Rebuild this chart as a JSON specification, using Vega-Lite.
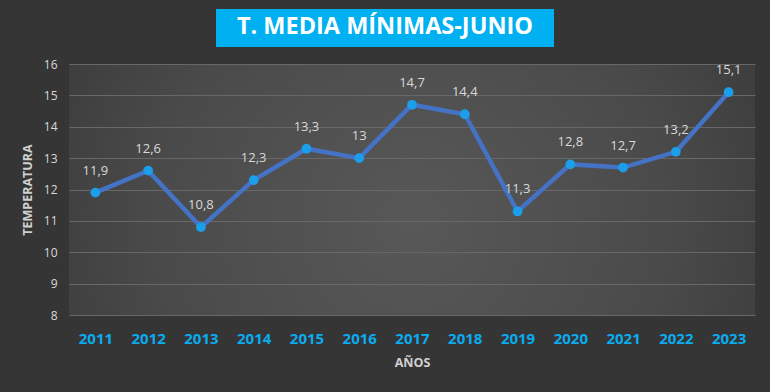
{
  "$schema": "https://vega.github.io/schema/vega-lite/v6.json",
  "width": 686,
  "height": 251,
  "autosize": {"type": "none"},
  "padding": {"left": 69, "top": 64, "right": 15, "bottom": 77},
  "background": "#353535",
  "config": {
    "view": {
      "stroke": null,
      "fill": {
        "gradient": "radial",
        "x1": 0.5, "y1": 0.55, "r1": 0,
        "x2": 0.5, "y2": 0.55, "r2": 0.75,
        "stops": [
          {"offset": 0, "color": "#585858"},
          {"offset": 0.5, "color": "#4a4a4a"},
          {"offset": 0.75, "color": "#3d3d3d"},
          {"offset": 1, "color": "#363636"}
        ]
      }
    },
    "font": "Open Sans",
    "locale": {
      "number": {"decimal": ",", "thousands": ".", "grouping": [3], "currency": ["", " €"]}
    }
  },
  "data": {
    "values": [
      {"year": "2011", "temp": 11.9},
      {"year": "2012", "temp": 12.6},
      {"year": "2013", "temp": 10.8},
      {"year": "2014", "temp": 12.3},
      {"year": "2015", "temp": 13.3},
      {"year": "2016", "temp": 13.0},
      {"year": "2017", "temp": 14.7},
      {"year": "2018", "temp": 14.4},
      {"year": "2019", "temp": 11.3},
      {"year": "2020", "temp": 12.8},
      {"year": "2021", "temp": 12.7},
      {"year": "2022", "temp": 13.2},
      {"year": "2023", "temp": 15.1}
    ]
  },
  "resolve": {"scale": {"x": "independent", "y": "independent"}, "axis": {"x": "independent", "y": "independent"}},
  "layer": [
    {
      "encoding": {
        "x": {
          "field": "year",
          "type": "ordinal",
          "scale": {"type": "point", "padding": 0.5},
          "axis": {
            "title": "AÑOS",
            "labelAngle": 0,
            "labelColor": "#0AABEF",
            "labelFont": "Open Sans",
            "labelFontSize": 15,
            "labelFontWeight": "bold",
            "labelPadding": 16,
            "ticks": false,
            "tickSize": 0,
            "domain": false,
            "grid": false,
            "titleColor": "#d0d0d0",
            "titleFontSize": 12.5,
            "titleFontWeight": "bold",
            "titlePadding": 10
          }
        },
        "y": {
          "field": "temp",
          "type": "quantitative",
          "scale": {"domain": [8, 16], "nice": false, "zero": false},
          "axis": {
            "title": "TEMPERATURA",
            "values": [8, 9, 10, 11, 12, 13, 14, 15, 16],
            "labelOverlap": false,
            "format": "d",
            "labelColor": "#d9d9d9",
            "labelFontSize": 12,
            "labelPadding": 12,
            "ticks": false,
            "tickSize": 0,
            "domain": false,
            "grid": true,
            "gridColor": "#686868",
            "gridWidth": 1,
            "titleColor": "#d0d0d0",
            "titleFontSize": 12.5,
            "titleFontWeight": "bold",
            "titlePadding": 9
          }
        }
      },
      "layer": [
        {"mark": {"type": "line", "color": "#4472C4", "strokeWidth": 4.5}},
        {"mark": {"type": "point", "filled": true, "opacity": 1, "size": 95, "color": "#1C9FEA"}},
        {
          "mark": {"type": "text", "dy": -22, "baseline": "middle", "align": "center", "fontSize": 13, "color": "#d9d9d9"},
          "encoding": {"text": {"field": "temp", "type": "quantitative", "format": "~g"}}
        }
      ]
    },
    {
      "data": {"values": [{"title": "T. MEDIA MÍNIMAS-JUNIO"}]},
      "layer": [
        {
          "mark": {"type": "rect", "color": "#00B0F0", "opacity": 1},
          "encoding": {
            "x": {"datum": 0.2143, "type": "quantitative", "scale": {"domain": [0, 1]}, "axis": null},
            "x2": {"datum": 0.707},
            "y": {"datum": 17.753, "type": "quantitative", "scale": {"domain": [8, 16], "nice": false, "zero": false}, "axis": null},
            "y2": {"datum": 16.542}
          }
        },
        {
          "mark": {"type": "text", "align": "center", "baseline": "middle", "font": "Open Sans", "fontSize": 23.5, "fontWeight": "bold", "color": "#ffffff"},
          "encoding": {
            "x": {"datum": 0.4606, "type": "quantitative", "scale": {"domain": [0, 1]}, "axis": null},
            "y": {"datum": 17.17, "type": "quantitative", "scale": {"domain": [8, 16], "nice": false, "zero": false}, "axis": null},
            "text": {"field": "title"}
          }
        }
      ]
    }
  ]
}
